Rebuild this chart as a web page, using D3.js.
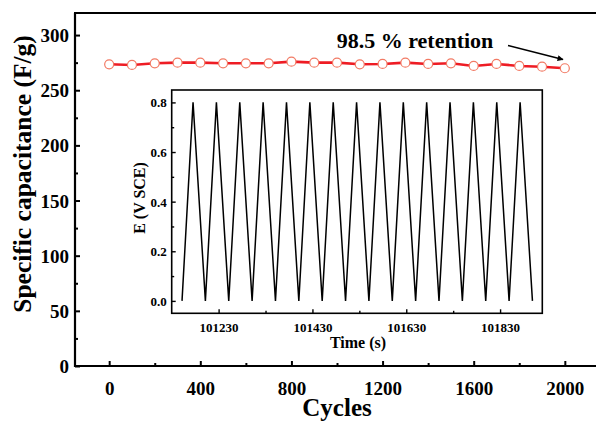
<!DOCTYPE html>
<html><head><meta charset="utf-8">
<script src="https://cdn.jsdelivr.net/npm/d3@7"></script>
<style>
html,body{margin:0;padding:0;background:#fff;overflow:hidden;}
text{font-family:"Liberation Serif","Times New Roman",serif;font-weight:bold;fill:#000;}
</style></head>
<body>
<svg id="c" width="596" height="422"></svg>
<script>
// ---- main chart data ----
const cycles = [0,100,200,300,400,500,600,700,800,900,1000,1100,1200,1300,1400,1500,1600,1700,1800,1900,2000];
const capacitance = [273.5,272.9,274.4,275.0,275.0,274.4,274.4,274.4,275.9,275.0,275.0,273.5,273.8,275.0,273.8,274.4,272.0,273.8,272.0,271.3,269.9];
const xTicksMain = [0,400,800,1200,1600,2000];
const xMinorMain = [200,600,1000,1400,1800];
const yTicksMain = [0,50,100,150,200,250,300];
const yMinorMain = [25,75,125,175,225,275];

// ---- inset (galvanostatic charge/discharge) data ----
const insetTime = [101152,101175.5,101201.8,101225.3,101251.6,101275.1,101301.4,101324.9,101351.2,101374.7,101401.0,
  101424.5,101450.8,101474.3,101500.6,101524.1,101550.4,101573.9,101600.2,101623.7,101650.0,101673.5,101699.8,
  101723.3,101749.6,101773.1,101799.4,101822.9,101849.2,101872.7,101899.0];
const insetE = [0,0.8,0,0.8,0,0.8,0,0.8,0,0.8,0,0.8,0,0.8,0,0.8,0,0.8,0,0.8,0,0.8,0,0.8,0,0.8,0,0.8,0,0.8,0];
const xTicksInset = [101230,101430,101630,101830];
const xMinorInset = [101330,101530,101730];
const yTicksInset = [0,0.2,0.4,0.6,0.8];
const yMinorInset = [0.1,0.3,0.5,0.7];

const svg = d3.select("#c");

// main scales
const x = d3.scaleLinear().domain([-150,2150]).range([75,599]);
const y = d3.scaleLinear().domain([0,320]).range([366,13]);

// main axes (ticks inward)
const gx = svg.append("g").attr("transform","translate(0,366)")
  .call(d3.axisBottom(x).tickValues(xTicksMain).tickSize(-5).tickPadding(16).tickFormat(d3.format("d")));
const gxm = svg.append("g").attr("transform","translate(0,366)")
  .call(d3.axisBottom(x).tickValues(xMinorMain).tickSize(-3).tickFormat(""));
const gy = svg.append("g").attr("transform","translate(75,0)")
  .call(d3.axisLeft(y).tickValues(yTicksMain).tickSize(-5).tickPadding(6).tickFormat(d3.format("d")));
const gym = svg.append("g").attr("transform","translate(75,0)")
  .call(d3.axisLeft(y).tickValues(yMinorMain).tickSize(-3).tickFormat(""));
[gx,gxm,gy,gym].forEach(g=>{
  g.select(".domain").remove();
  g.selectAll(".tick line").attr("stroke","#000").attr("stroke-width",2);
});
gx.selectAll(".tick text").attr("font-size",19);
gy.selectAll(".tick text").attr("font-size",19).attr("dy","0.34em");

// spines
svg.append("line").attr("x1",75).attr("x2",599).attr("y1",366).attr("y2",366).attr("stroke","#000").attr("stroke-width",2.2);
svg.append("line").attr("x1",75).attr("x2",75).attr("y1",13).attr("y2",367).attr("stroke","#000").attr("stroke-width",2.2);
svg.append("line").attr("x1",74).attr("x2",599).attr("y1",13).attr("y2",13).attr("stroke","#000").attr("stroke-width",2.2);

// axis titles
svg.append("text").attr("x",337).attr("y",416).attr("text-anchor","middle").attr("font-size",25).text("Cycles");
svg.append("text").attr("transform","translate(31,174) rotate(-90)").attr("text-anchor","middle").attr("font-size",25.5)
  .text("Specific capacitance (F/g)");

// data line & markers
svg.append("path").datum(cycles.map((c,i)=>[c,capacitance[i]]))
  .attr("fill","none").attr("stroke","#ee1c24").attr("stroke-width",2.6)
  .attr("d",d3.line().x(d=>x(d[0])).y(d=>y(d[1])));
svg.selectAll("circle.m").data(cycles.map((c,i)=>[c,capacitance[i]])).enter().append("circle")
  .attr("class","m").attr("cx",d=>x(d[0])).attr("cy",d=>y(d[1])).attr("r",4.5)
  .attr("fill","#fff").attr("stroke","#f27a64").attr("stroke-width",1.2);

// annotation
svg.append("text").attr("x",415).attr("y",48).attr("text-anchor","middle").attr("font-size",22).text("98.5 % retention");
svg.append("defs").append("marker").attr("id","ah").attr("viewBox","0 0 10 10").attr("refX",9).attr("refY",5)
  .attr("markerWidth",10).attr("markerHeight",6).attr("markerUnits","userSpaceOnUse").attr("orient","auto")
  .append("path").attr("d","M0,0L10,5L0,10z").attr("fill","#000");
svg.append("line").attr("x1",508).attr("y1",45.5).attr("x2",563).attr("y2",59.5)
  .attr("stroke","#000").attr("stroke-width",1.6).attr("marker-end","url(#ah)");

// ---- inset ----
const ix = d3.scaleLinear().domain([101130,101920]).range([171.7,542.3]);
const iy = d3.scaleLinear().domain([-0.05,0.85]).range([313.3,90]);
svg.append("rect").attr("x",171.7).attr("y",90).attr("width",370.6).attr("height",223.3)
  .attr("fill","#fff").attr("stroke","#000").attr("stroke-width",1.6);

const igx = svg.append("g").attr("transform","translate(0,313.3)")
  .call(d3.axisBottom(ix).tickValues(xTicksInset).tickSize(-4).tickPadding(9).tickFormat(d3.format("d")));
const igxm = svg.append("g").attr("transform","translate(0,313.3)")
  .call(d3.axisBottom(ix).tickValues(xMinorInset).tickSize(-2.5).tickFormat(""));
const igy = svg.append("g").attr("transform","translate(171.7,0)")
  .call(d3.axisLeft(iy).tickValues(yTicksInset).tickSize(-4).tickPadding(5).tickFormat(d3.format(".1f")));
const igym = svg.append("g").attr("transform","translate(171.7,0)")
  .call(d3.axisLeft(iy).tickValues(yMinorInset).tickSize(-2.5).tickFormat(""));
[igx,igxm,igy,igym].forEach(g=>{
  g.select(".domain").remove();
  g.selectAll(".tick line").attr("stroke","#000").attr("stroke-width",1.4);
});
igx.selectAll(".tick text").attr("font-size",13);
igy.selectAll(".tick text").attr("font-size",13).attr("dy","0.34em");

svg.append("path").datum(insetTime.map((t,i)=>[t,insetE[i]]))
  .attr("fill","none").attr("stroke","#000").attr("stroke-width",1.5).attr("stroke-linejoin","miter")
  .attr("d",d3.line().x(d=>ix(d[0])).y(d=>iy(d[1])));

svg.append("text").attr("x",358).attr("y",348).attr("text-anchor","middle").attr("font-size",16).text("Time (s)");
svg.append("text").attr("transform","translate(145,198) rotate(-90)").attr("text-anchor","middle").attr("font-size",16)
  .text("E (V SCE)");
</script>
</body></html>
